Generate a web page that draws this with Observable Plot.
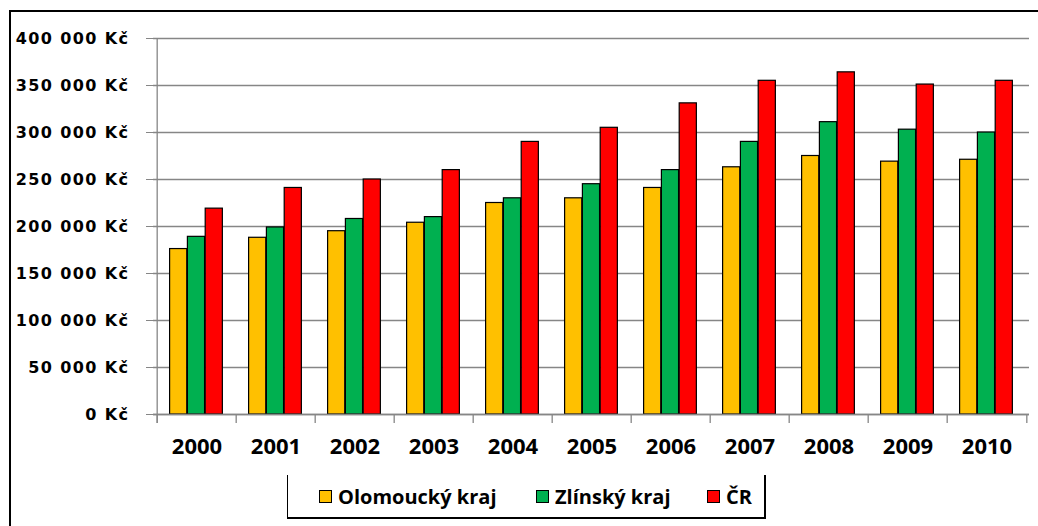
<!DOCTYPE html>
<html>
<head>
<meta charset="utf-8">
<script src="https://cdn.jsdelivr.net/npm/d3@7"></script>
<script src="https://cdn.jsdelivr.net/npm/@observablehq/plot@0.6"></script>
<style>
  html, body { margin: 0; padding: 0; background: #fff; }
  #wrap { position: relative; width: 1038px; height: 526px; overflow: hidden; background: #fff; }
  #frame { position: absolute; left: 9px; top: 10px; width: 1100px; height: 600px; border-left: 2px solid #000; border-top: 2px solid #000; box-sizing: border-box; }
  #chart { position: absolute; left: 0; top: 0; }
  #chart g[aria-label="y-axis tick label"] text { letter-spacing: 1.4px; }
  #legend { position: absolute; left: 287px; top: 475px; width: 479px; height: 44px; border-left: 1.5px solid #000; border-right: 2px solid #000; border-bottom: 2px solid #000; box-sizing: border-box; font-family: "Open Sans", sans-serif; font-weight: 700; font-size: 20px; color: #000; }
  .item { position: absolute; top: 8px; display: flex; align-items: center; white-space: nowrap; }
  .sw { width: 11px; height: 11px; border: 1px solid #000; margin-right: 6px; }
</style>
</head>
<body>
<div id="wrap">
  <div id="frame"></div>
  <div id="chart"></div>
  <div id="legend"></div>
</div>
<script>
const years = ["2000","2001","2002","2003","2004","2005","2006","2007","2008","2009","2010"];
const seriesNames = ["Olomoucký kraj", "Zlínský kraj", "ČR"];
const seriesColors = ["#FFC000", "#00B050", "#FF0000"];
const olomoucky = [176000, 188000, 195000, 204000, 225000, 230000, 241000, 263000, 275000, 269000, 271000];
const zlinsky   = [189000, 199000, 208000, 210000, 230000, 245000, 260000, 290000, 311000, 303000, 300000];
const cr        = [219000, 241000, 250000, 260000, 290000, 305000, 331000, 355000, 364000, 351000, 355000];
const yTicks = [0, 50000, 100000, 150000, 200000, 250000, 300000, 350000, 400000];

const W = 1038, H = 470;
const mL = 153, mR = 9, mT = 38, mB = 56;
const step = (W - mL - mR) / years.length;
const barW = 17.8, off = 12.6;

const allSeries = [olomoucky, zlinsky, cr];
const data = [];
allSeries.forEach((vals, s) => vals.forEach((v, i) => data.push({year: years[i], value: v, s})));

const fmt = d => d3.format(",")(d).replace(/,/g, " ") + " Kč";

const barMarks = allSeries.map((vals, s) =>
  Plot.barY(data.filter(d => d.s === s), {
    x: "year", y: "value",
    fill: seriesColors[s], stroke: "#000", strokeWidth: 1.2,
    insetLeft: off + s * barW,
    insetRight: step - (off + (s + 1) * barW)
  })
);

const plot = Plot.plot({
  width: W, height: H,
  marginLeft: mL, marginRight: mR, marginTop: mT, marginBottom: mB,
  style: {background: "transparent", color: "#000"},
  x: {domain: years, padding: 0, label: null},
  y: {domain: [0, 400000], label: null},
  marks: [
    Plot.gridY(yTicks, {stroke: "#868686", strokeOpacity: 1, strokeWidth: 1.3}),
    ...barMarks,
    // y axis line
    Plot.ruleX([years[0]], {x: d => d, y1: 400000, y2: 0, dx: -step / 2, insetBottom: -9, stroke: "#868686", strokeWidth: 1.3}),
    // category boundary ticks
    Plot.ruleX(years, {x: d => d, y1: 0, y2: 0, dx: -step / 2, insetBottom: -9, stroke: "#868686", strokeWidth: 1.3}),
    Plot.ruleX([years[years.length - 1]], {x: d => d, y1: 0, y2: 0, dx: step / 2, insetBottom: -9, stroke: "#868686", strokeWidth: 1.3}),
    Plot.ruleY([0], {stroke: "#868686", strokeWidth: 1.3}),
    Plot.axisY(yTicks, {tickSize: 7, tickPadding: 17, tickFormat: fmt, stroke: "#868686", fill: "#000", fontFamily: "DejaVu Sans", fontSize: 16, fontWeight: 700, label: null}),
    Plot.axisX({tickSize: 0, tickPadding: 24, fill: "#000", fontFamily: "Open Sans", fontSize: 22, fontWeight: 700, label: null})
  ]
});
document.getElementById("chart").appendChild(plot);

// legend
const legend = document.getElementById("legend");
const lx = [31, 248, 419];
seriesNames.forEach((name, i) => {
  const it = document.createElement("div");
  it.className = "item";
  it.style.left = lx[i] + "px";
  const sw = document.createElement("div");
  sw.className = "sw";
  sw.style.background = seriesColors[i];
  const t = document.createElement("span");
  t.textContent = name;
  it.appendChild(sw); it.appendChild(t);
  legend.appendChild(it);
});
</script>
</body>
</html>
